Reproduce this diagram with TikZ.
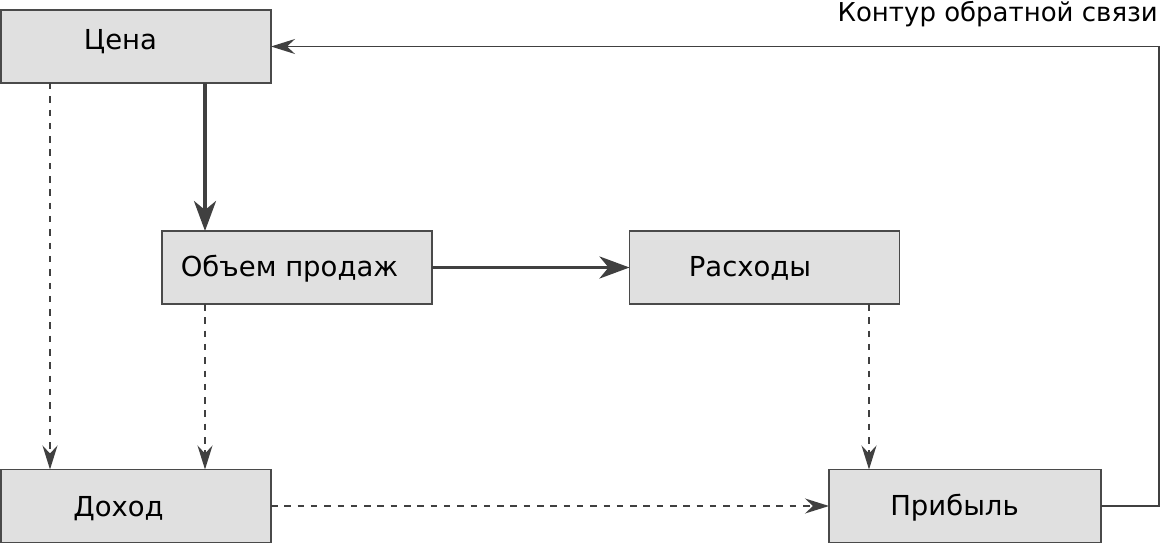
\documentclass[tikz,border=0pt]{standalone}
\usepackage{fontspec}
\setmainfont{DejaVu Sans}
\usetikzlibrary{arrows.meta}
\definecolor{linec}{HTML}{404040}
\definecolor{boxfill}{HTML}{E0E0E0}
\definecolor{boxline}{HTML}{4A4A4A}
\begin{document}
\begin{tikzpicture}[x=1pt,y=-1pt,
  box/.style={draw=boxline, line width=1.8pt, fill=boxfill, minimum width=270pt, minimum height=73pt, inner sep=0pt, outer sep=0pt},
  lbl/.style={anchor=base, font=\fontsize{27.5}{30}\selectfont, text=black, inner sep=0pt},
  bigtip/.style={-{Stealth[length=30pt,width=22pt,inset=9pt]}},
  smalltip/.style={-{Stealth[length=24pt,width=15pt,inset=8pt]}},
  strong/.style={draw=linec, line width=3.6pt, bigtip},
  dsh/.style={draw=linec, line width=1.6pt, dash pattern=on 6.5pt off 6.8pt, smalltip},
  thin/.style={draw=linec, line width=1.6pt, smalltip}
]
\useasboundingbox (0,0) rectangle (1166,545);
\node[box] (cena) at (136,46.5) {};
\node[box] (obem) at (297,267.5) {};
\node[box] (rash) at (764.5,267.5) {};
\node[box] (dohod) at (136,506) {};
\node[box, minimum width=272pt] (prib) at (965,506) {};
\node[lbl] (tcena) at (120.5,50) {Цена};
\node[lbl] (tobem) at (289.5,276) {Объем продаж};
\node[lbl] (trash) at (750,276) {Расходы};
\node[lbl] (tdohod) at (118.5,516) {Доход};
\node[lbl] (tprib) at (954.5,515) {Прибыль};
\node[anchor=base east, font=\fontsize{26}{30}\selectfont, inner sep=0pt] (loop) at (1158,22) {Контур обратной связи};
\coordinate (xa) at (50,0);
\coordinate (xb) at (205,0);
\coordinate (xc) at (869,0);
\coordinate (xf) at (1159,0);
\draw[strong] (cena.south -| xb) -- (obem.north -| xb);
\draw[strong] (obem.east) -- (rash.west);
\draw[dsh] (cena.south -| xa) -- (dohod.north -| xa);
\draw[dsh] (obem.south -| xb) -- (dohod.north -| xb);
\draw[dsh] (rash.south -| xc) -- (prib.north -| xc);
\draw[dsh] (dohod.east) -- (prib.west);
\draw[thin] (prib.east) -| (xf |- cena.east) -- (cena.east);
\end{tikzpicture}
\end{document}
